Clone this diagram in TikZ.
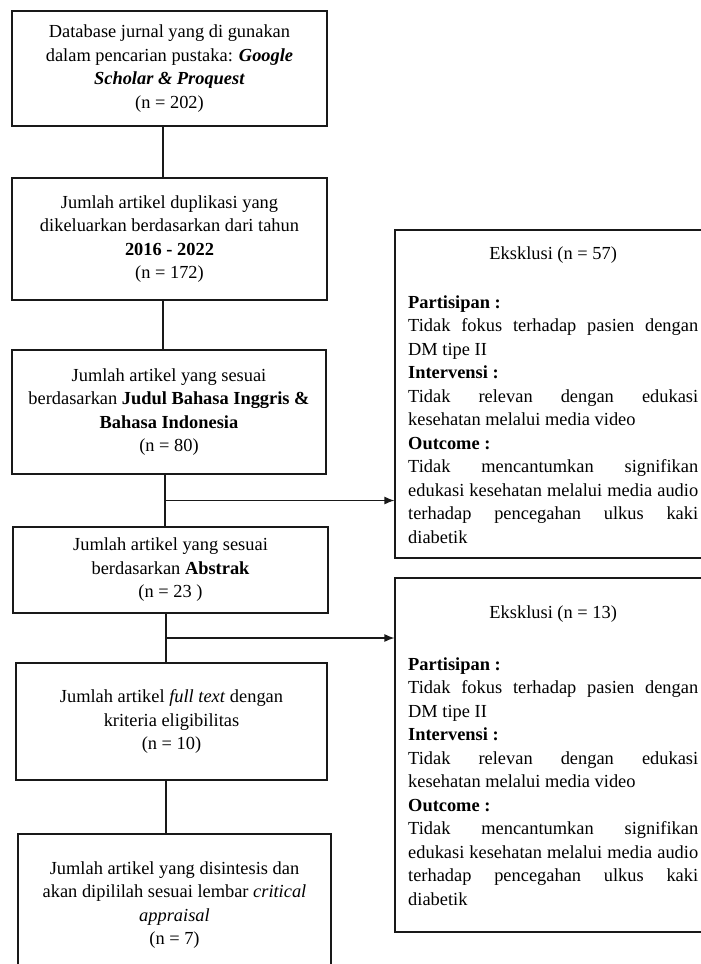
\documentclass[tikz,border=0pt]{standalone}
\usepackage{fontspec}
\setmainfont{Liberation Serif}
\usetikzlibrary{arrows.meta,calc}
\begin{document}
\begin{tikzpicture}[x=1pt,y=-1pt,
  every node/.style={font=\fontsize{18.4}{23.5}\selectfont},
  box/.style={draw=black!90,line width=1.2pt,align=center,inner sep=0pt},
  exbox/.style={draw=black!90,line width=1.2pt,inner sep=0pt},
  extext/.style={text width=290pt,align=justify,inner sep=0pt,anchor=base west},
  link/.style={draw=black!90,line width=1.2pt},
  arr/.style={link,-{Latex[length=10pt,width=8pt]}}]
\useasboundingbox[fill=white] (0,0) rectangle (701,964);

% main flow boxes
\node[box,minimum width=315pt,minimum height=115pt] (b1) at (169.5,68.5)
  {Database jurnal yang di gunakan\\dalam pencarian pustaka: \textbf{\textit{Google}}\\\textbf{\textit{Scholar \& Proquest}}\\(n = 202)};
\node[box,minimum width=315pt,minimum height=122pt] (b2) at (169.5,239)
  {Jumlah artikel duplikasi yang\\dikeluarkan berdasarkan dari tahun\\\textbf{2016 - 2022}\\(n = 172)};
\node[box,minimum width=314pt,minimum height=124pt] (b3) at (169,412)
  {Jumlah artikel yang sesuai\\berdasarkan \textbf{Judul Bahasa Inggris \&}\\\textbf{Bahasa Indonesia}\\(n = 80)};
\node[box,minimum width=315pt,minimum height=86pt] (b4) at (170.5,570)
  {Jumlah artikel yang sesuai\\berdasarkan \textbf{Abstrak}\\(n = 23 )};
\node[box,minimum width=311pt,minimum height=117pt] (b5) at (171.5,721.5)
  {Jumlah artikel \textit{full text} dengan\\kriteria eligibilitas\\(n = 10)};
\node[box,minimum width=313pt,minimum height=142pt] (b6) at (174.5,905)
  {Jumlah artikel yang disintesis dan\\akan dipililah sesuai lembar \textit{critical}\\\textit{appraisal}\\(n = 7)};

% exclusion boxes
\node[exbox,minimum width=311pt,minimum height=328pt] (ex1) at (550.5,394) {};
\node[exbox,minimum width=311pt,minimum height=354pt] (ex2) at (550.5,755) {};

\node[extext] (t1) at (408,259) {\parindent0pt
  {\centering Eksklusi (n = 57)\par}\vspace{25.5pt}
  \textbf{Partisipan :}\par
  Tidak fokus terhadap pasien dengan\linebreak DM tipe II\par
  \textbf{Intervensi :}\par
  Tidak relevan dengan edukasi\linebreak kesehatan melalui media video\par
  \textbf{Outcome :}\par
  Tidak mencantumkan signifikan\linebreak edukasi kesehatan melalui media audio\linebreak terhadap pencegahan ulkus kaki\linebreak diabetik\par};
\node[extext] (t2) at (408,618) {\parindent0pt
  {\centering Eksklusi (n = 13)\par}\vspace{28.5pt}
  \textbf{Partisipan :}\par
  Tidak fokus terhadap pasien dengan\linebreak DM tipe II\par
  \textbf{Intervensi :}\par
  Tidak relevan dengan edukasi\linebreak kesehatan melalui media video\par
  \textbf{Outcome :}\par
  Tidak mencantumkan signifikan\linebreak edukasi kesehatan melalui media audio\linebreak terhadap pencegahan ulkus kaki\linebreak diabetik\par};

% connectors
\draw[link] ([xshift=-6.5pt]b1.south) -- ([xshift=-6.5pt]b1.south |- b2.north);
\draw[link] ([xshift=-6.5pt]b2.south) -- ([xshift=-6.5pt]b2.south |- b3.north);
\draw[link] ([xshift=-4pt]b3.south) -- ([xshift=-4pt]b3.south |- b4.north);
\draw[link] ([xshift=-4.5pt]b4.south) -- ([xshift=-4.5pt]b4.south |- b5.north);
\draw[link] ([xshift=-5.5pt]b5.south) -- ([xshift=-5.5pt]b5.south |- b6.north);

\coordinate (j1) at ($([xshift=-4pt]b3.south)!0.5!([xshift=-4pt]b3.south |- b4.north)$);
\coordinate (j2) at ($([xshift=-4.5pt]b4.south)!0.5!([xshift=-4.5pt]b4.south |- b5.north)$);
\draw[arr] (j1) -- (j1 -| ex1.west);
\draw[arr] (j2) -- (j2 -| ex2.west);
\end{tikzpicture}
\end{document}
